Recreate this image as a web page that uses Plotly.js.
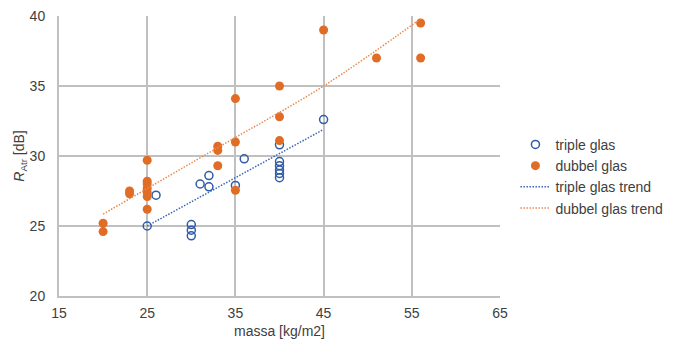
<!DOCTYPE html>
<html>
<head>
<meta charset="utf-8">
<script src="https://cdn.plot.ly/plotly-3.0.1.min.js"></script>
<style>html,body{margin:0;padding:0;background:#fff;}#chart{width:685px;height:343px;}</style>
</head>
<body>
<div id="chart"></div>
<script>
// triple glas measurements
var tripleX = [25, 26, 30, 30, 30, 31, 32, 32, 35, 36, 40, 40, 40, 40, 40, 40, 45];
var tripleY = [25.0, 27.2, 25.1, 24.7, 24.3, 28.0, 28.6, 27.8, 27.9, 29.8, 30.8, 29.6, 29.3, 29.0, 28.75, 28.45, 32.6];
// dubbel glas measurements
var dubbelX = [20, 20, 23, 23, 25, 25, 25, 25, 25, 25, 25, 33, 33, 33, 35, 35, 35, 40, 40, 40, 45, 51, 56, 56];
var dubbelY = [25.2, 24.6, 27.5, 27.3, 29.7, 28.2, 28.0, 27.7, 27.4, 27.1, 26.2, 30.7, 30.4, 29.3, 34.1, 31.0, 27.55, 35.0, 32.8, 31.1, 39.0, 37.0, 39.5, 37.0];
// trend lines
var tripleTrendX = [25, 45];
var tripleTrendY = [25.0, 31.9];
var dubbelTrendX = [20, 33, 45, 56];
var dubbelTrendY = [25.85, 30.6, 35.0, 39.8];
var xTicks = [15, 25, 35, 45, 55, 65];
var yTicks = [20, 25, 30, 35, 40];

var blue = '#2F5BA8', orange = '#E06C25';
var traces = [
  {x: tripleX, y: tripleY, type: 'scatter', mode: 'markers', name: 'triple glas',
   marker: {symbol: 'circle-open', size: 8, color: blue, line: {width: 1.5, color: blue}}},
  {x: dubbelX, y: dubbelY, type: 'scatter', mode: 'markers', name: 'dubbel glas',
   marker: {symbol: 'circle', size: 9, color: orange}},
  {x: tripleTrendX, y: tripleTrendY, type: 'scatter', mode: 'lines', name: 'triple glas trend',
   line: {color: '#3A66B8', width: 1.5, dash: '1.5px,1.5px'}},
  {x: dubbelTrendX, y: dubbelTrendY, type: 'scatter', mode: 'lines', name: 'dubbel glas trend',
   line: {color: '#EA8A4E', width: 1.5, dash: '1.5px,1.5px', shape: 'spline'}}
];
var layout = {
  width: 685, height: 343,
  margin: {l: 59, r: 185, t: 16, b: 47},
  paper_bgcolor: '#fff', plot_bgcolor: '#fff',
  font: {family: 'Liberation Sans, Arial, sans-serif', size: 14, color: '#404040'},
  showlegend: true,
  legend: {x: 1.035, xanchor: 'left', y: 0.597, yanchor: 'top', font: {size: 14, color: '#404040'}, bgcolor: 'rgba(0,0,0,0)'},
  xaxis: {range: [15, 65], tickvals: xTicks, ticktext: xTicks.map(String), showgrid: true, gridcolor: '#C0C0C0', gridwidth: 2,
          showline: true, linecolor: '#C0C0C0', linewidth: 2, zeroline: false, ticks: '', ticklabelstandoff: 3,
          title: {text: 'massa [kg/m2]', font: {size: 14, color: '#404040'}, standoff: 6}},
  yaxis: {range: [20, 40], tickvals: yTicks, ticktext: yTicks.map(String), showgrid: true, gridcolor: '#C0C0C0', gridwidth: 2,
          showline: true, linecolor: '#C0C0C0', linewidth: 2, zeroline: false, ticks: '', ticklabelstandoff: 9,
          title: {text: '<i>R</i><sub>Atr</sub> [dB]', font: {size: 14, color: '#404040'}, standoff: 2}}
};
Plotly.newPlot('chart', traces, layout, {displayModeBar: false, staticPlot: true});
</script>
</body>
</html>
